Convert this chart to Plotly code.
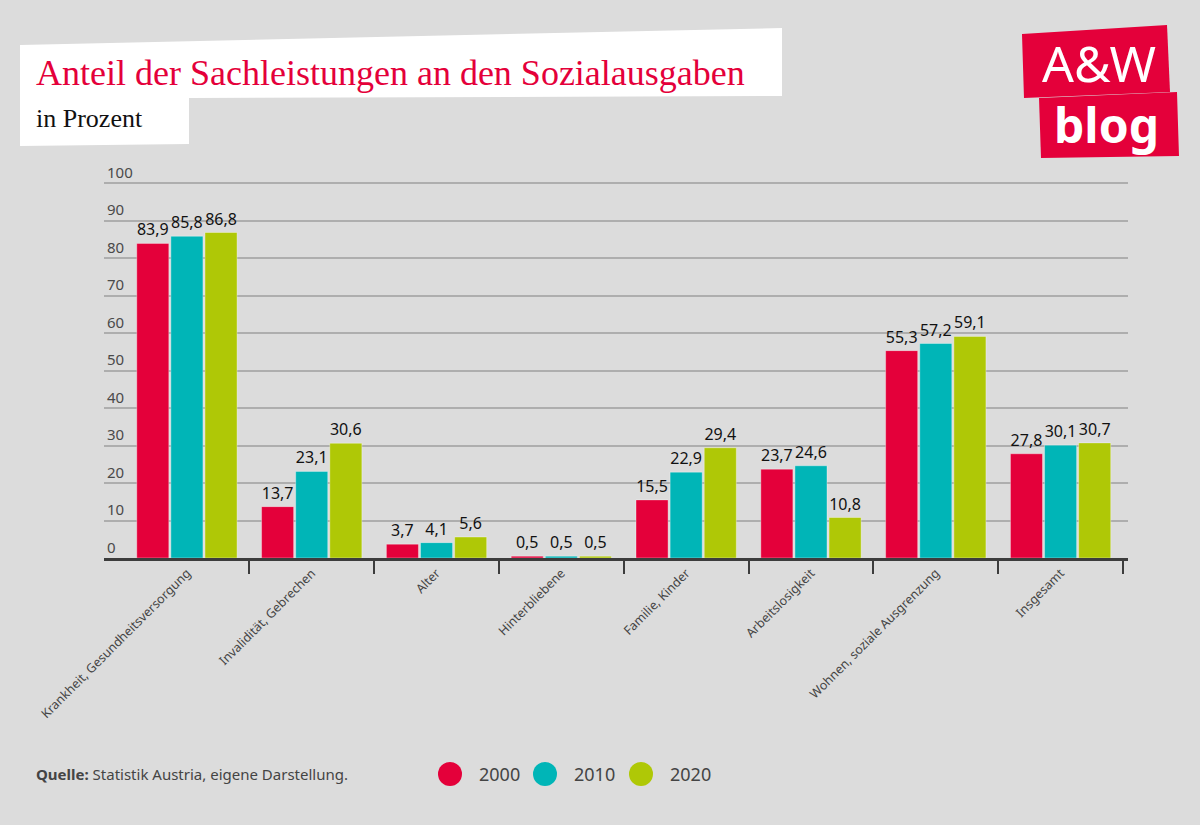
import plotly.graph_objects as go

# ---------------- data ----------------
categories = [
    "Krankheit, Gesundheitsversorgung",
    "Invalidität, Gebrechen",
    "Alter",
    "Hinterbliebene",
    "Familie, Kinder",
    "Arbeitslosigkeit",
    "Wohnen, soziale Ausgrenzung",
    "Insgesamt",
]
years = ["2000", "2010", "2020"]
values_2000 = [83.9, 13.7, 3.7, 0.5, 15.5, 23.7, 55.3, 27.8]
values_2010 = [85.8, 23.1, 4.1, 0.5, 22.9, 24.6, 57.2, 30.1]
values_2020 = [86.8, 30.6, 5.6, 0.5, 29.4, 10.8, 59.1, 30.7]
y_ticks = [0, 10, 20, 30, 40, 50, 60, 70, 80, 90, 100]

title_text = "Anteil der Sachleistungen an den Sozialausgaben"
subtitle_text = "in Prozent"
source_text = "<b>Quelle:</b> Statistik Austria, eigene Darstellung."

# ---------------- style ----------------
BG = "#DCDCDC"
COLORS = ["#E4003A", "#00B5B7", "#AFC806"]
W, H = 1200, 825
L, R, T, B = 104, 1128, 160, 558  # plot area in pixels

def px(x):
    return (x - L) / (R - L)

def py(y):
    return (B - y) / (B - T)

fig = go.Figure()
series = [values_2000, values_2010, values_2020]
for name, vals, col in zip(years, series, COLORS):
    fig.add_trace(go.Bar(
        x=categories, y=vals, name=name,
        marker=dict(color=col, line=dict(color="rgba(255,255,255,0.35)", width=1)),
        texttemplate="%{y:.1f}", textposition="outside",
        textfont=dict(family="Noto Sans", size=16, color="#111111"),
        cliponaxis=False, showlegend=False,
    ))

# category axis range in pixels: -0.5 at 124.5, spacing 124.8
step = (1123 - 124.5) / 8
x_lo = -0.5 - (124.5 - L) / step
x_hi = 7.5 + (R - 1123) / step
y_hi = (B - T) / 3.75

shapes = []

def pt(x, y):
    return f"{px(x):.5f},{py(y):.5f}"

# title white box
title_path = ("M " + pt(20, 45) + " L " + pt(782, 28) + " L " + pt(782, 96) +
              " L " + pt(189, 98) + " L " + pt(189, 144) + " L " + pt(20, 146) + " Z")
shapes.append(dict(type="path", xref="paper", yref="paper", path=title_path,
                   fillcolor="white", line=dict(width=0), layer="below"))
# logo boxes
logo1 = "M " + pt(1022, 34) + " L " + pt(1167, 25) + " L " + pt(1170, 92) + " L " + pt(1024, 98) + " Z"
logo2 = "M " + pt(1039, 98) + " L " + pt(1177, 92) + " L " + pt(1179, 156) + " L " + pt(1041, 158) + " Z"
for p in (logo1, logo2):
    shapes.append(dict(type="path", xref="paper", yref="paper", path=p,
                       fillcolor="#E4003A", line=dict(width=0), layer="above"))

annotations = [
    dict(text=title_text, x=px(34), y=py(73), xref="paper", yref="paper",
         xanchor="left", yanchor="middle", showarrow=False,
         font=dict(family="Liberation Serif", size=36, color="#E4003A")),
    dict(text=subtitle_text, x=px(34), y=py(118), xref="paper", yref="paper",
         xanchor="left", yanchor="middle", showarrow=False,
         font=dict(family="Liberation Serif", size=26, color="#111111")),
    dict(text="A&W", x=px(1099), y=py(63), xref="paper", yref="paper",
         xanchor="center", yanchor="middle", showarrow=False,
         font=dict(family="Noto Sans", size=50, color="white")),
    dict(text="<b>blog</b>", x=px(1106), y=py(124), xref="paper", yref="paper",
         xanchor="center", yanchor="middle", showarrow=False,
         font=dict(family="Noto Sans", size=48, color="white")),
    dict(text=source_text, x=px(34), y=py(774), xref="paper", yref="paper",
         xanchor="left", yanchor="middle", showarrow=False,
         font=dict(family="Noto Sans", size=15, color="#444444")),
]

# custom legend (round markers)
legend_cx = [450, 545, 641]
for name, col, cx in zip(years, COLORS, legend_cx):
    r = 12
    shapes.append(dict(type="circle", xref="paper", yref="paper",
                       x0=px(cx - r), x1=px(cx + r), y0=py(774 + r), y1=py(774 - r),
                       fillcolor=col, line=dict(width=0)))
    annotations.append(dict(text=name, x=px(cx + 27), y=py(774), xref="paper", yref="paper",
                            xanchor="left", yanchor="middle", showarrow=False,
                            font=dict(family="Noto Sans", size=18, color="#444444")))

fig.update_layout(
    width=W, height=H,
    paper_bgcolor=BG, plot_bgcolor=BG,
    margin=dict(l=L, r=W - R, t=T, b=H - B, pad=0),
    barmode="group", bargap=0.18, bargroupgap=0.06,
    separators=",.",
    shapes=shapes, annotations=annotations,
    showlegend=False,
    font=dict(family="Noto Sans", color="#444444"),
)
fig.update_xaxes(
    range=[x_lo, x_hi], showgrid=False, zeroline=False,
    showline=True, linecolor="#3C3C3C", linewidth=3,
    ticks="outside", tickson="boundaries", ticklen=13, tickwidth=2, tickcolor="#3C3C3C",
    tickangle=-45, tickfont=dict(family="Noto Sans", size=12.5, color="#444444"),
)
fig.update_yaxes(
    range=[0, y_hi], tickvals=y_ticks, showgrid=True, gridcolor="#AEAEAE", gridwidth=2,
    zeroline=False, ticks="", ticklabelposition="inside top",
    tickfont=dict(family="Noto Sans", size=15, color="#4A4A4A"),
)

fig.write_html("out.html", config={"displayModeBar": False},
               post_script="document.body.style.margin='0px';")
